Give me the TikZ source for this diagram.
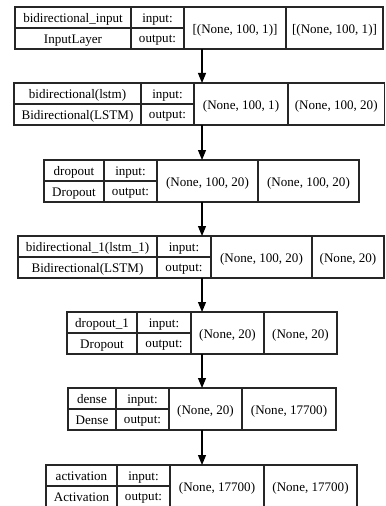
\documentclass[tikz,border=0pt]{standalone}
\usepackage{fontspec}
\setmainfont{Liberation Serif}
\usetikzlibrary{arrows.meta}
\tikzset{
  box/.style={draw=black!85,line width=0.8pt},
  txt/.style={font=\fontsize{9.8pt}{11pt}\selectfont,inner sep=0pt,anchor=center,text depth=0pt},
  flow/.style={draw=black,line width=0.8pt,-{Triangle[length=7.5pt,width=6pt]}}
}
% #1 name, #2 top, #3 mid, #4 bottom, #5 left, #6 d1, #7 d2, #8 d3, #9 right
\newcommand\lay[9]{%
  \draw[box] (#5,#2) rectangle (#9,#4);
  \draw[box] (#6,#2) -- (#6,#4) (#7,#2) -- (#7,#4) (#8,#2) -- (#8,#4) (#5,#3) -- (#7,#3);
  \node[txt] (#1-name) at ({(#5+#6)/2},{(#2+#3)/2+0.5}) {\tA};
  \node[txt] (#1-cls) at ({(#5+#6)/2},{(#3+#4)/2+0.5}) {\tB};
  \node[txt] (#1-il) at ({(#6+#7)/2},{(#2+#3)/2+0.5}) {input:};
  \node[txt] (#1-ol) at ({(#6+#7)/2},{(#3+#4)/2+0.5}) {output:};
  \node[txt] (#1-in) at ({(#7+#8)/2},{#3+0.5}) {\tC};
  \node[txt] (#1-out) at ({(#8+#9)/2},{#3+0.5}) {\tD};
  \coordinate (#1-top) at (202,#2);
  \coordinate (#1-bot) at (202,#4);
}
\begin{document}
\begin{tikzpicture}[x=0.75pt,y=-0.75pt]
\useasboundingbox (0,0) rectangle (385,506);
\def\tA{bidirectional\_input}\def\tB{InputLayer}\def\tC{[(None, 100, 1)]}\def\tD{[(None, 100, 1)]}
\lay{L1}{7}{28}{49}{15}{131}{184}{286}{383}
\def\tA{bidirectional(lstm)}\def\tB{Bidirectional(LSTM)}\def\tC{(None, 100, 1)}\def\tD{(None, 100, 20)}
\lay{L2}{83}{104}{125}{14}{141}{194}{288}{384.5}
\def\tA{dropout}\def\tB{Dropout}\def\tC{(None, 100, 20)}\def\tD{(None, 100, 20)}
\lay{L3}{160}{181}{202}{44}{104}{157}{258}{359}
\def\tA{bidirectional\_1(lstm\_1)}\def\tB{Bidirectional(LSTM)}\def\tC{(None, 100, 20)}\def\tD{(None, 20)}
\lay{L4}{236}{257}{278}{18}{157}{211}{312}{384}
\def\tA{dropout\_1}\def\tB{Dropout}\def\tC{(None, 20)}\def\tD{(None, 20)}
\lay{L5}{312}{333}{354}{67}{137}{191}{264}{337}
\def\tA{dense}\def\tB{Dense}\def\tC{(None, 20)}\def\tD{(None, 17700)}
\lay{L6}{388}{409}{430}{68}{116}{169}{242}{336}
\def\tA{activation}\def\tB{Activation}\def\tC{(None, 17700)}\def\tD{(None, 17700)}
\lay{L7}{465}{486}{507}{46}{117}{170}{264}{357}
\draw[flow] (L1-bot) -- (L2-top);
\draw[flow] (L2-bot) -- (L3-top);
\draw[flow] (L3-bot) -- (L4-top);
\draw[flow] (L4-bot) -- (L5-top);
\draw[flow] (L5-bot) -- (L6-top);
\draw[flow] (L6-bot) -- (L7-top);
\end{tikzpicture}
\end{document}
